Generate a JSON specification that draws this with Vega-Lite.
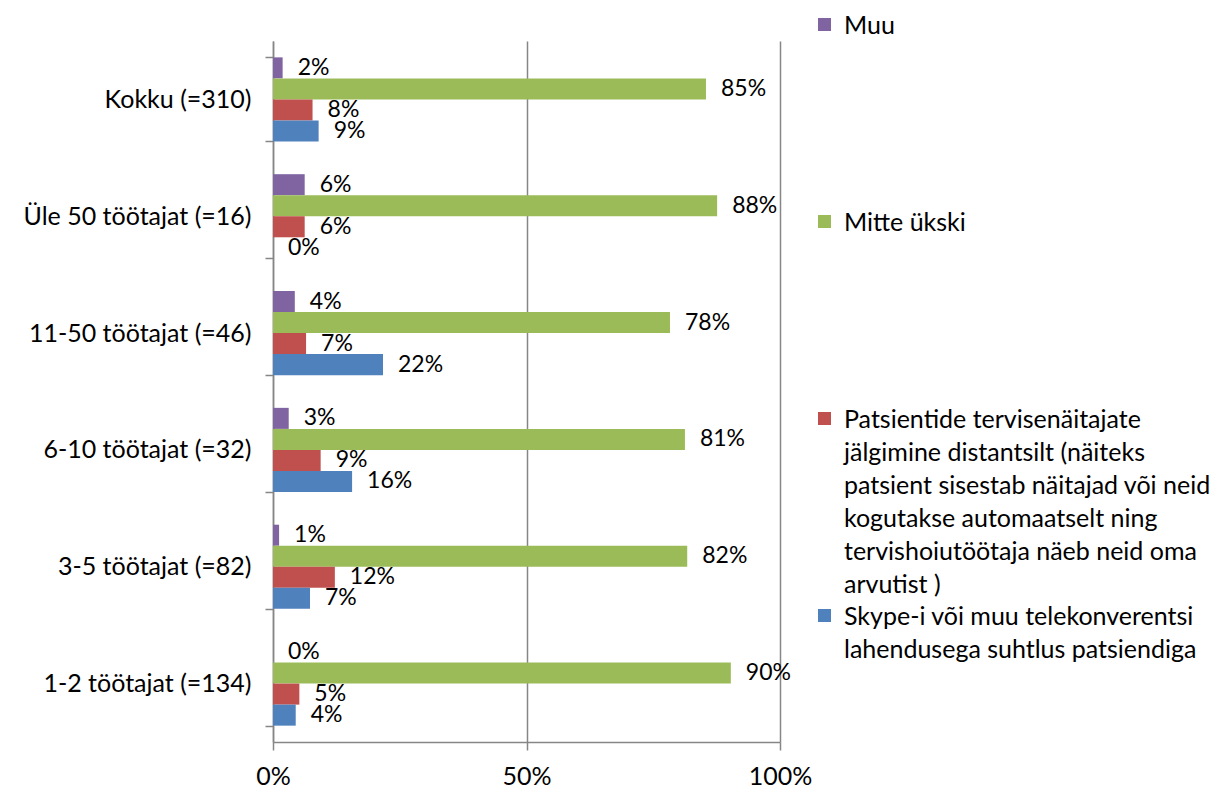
{
  "$schema": "https://vega.github.io/schema/vega-lite/v6.json",
  "width": 507,
  "height": 701,
  "autosize": "none",
  "padding": {"left": 273, "top": 41, "right": 451, "bottom": 70},
  "background": "white",
  "config": {"view": {"stroke": null}, "font": "Lato"},
  "data": {
    "values": [
      {"category": "Kokku (=310)", "series": "Muu", "value": 0.019},
      {"category": "Kokku (=310)", "series": "Mitte ükski", "value": 0.854},
      {"category": "Kokku (=310)", "series": "Patsientide tervisenäitajate jälgimine distantsilt", "value": 0.078},
      {"category": "Kokku (=310)", "series": "Skype-i või muu telekonverentsi lahendusega suhtlus patsiendiga", "value": 0.09},
      {"category": "Üle 50 töötajat (=16)", "series": "Muu", "value": 0.0625},
      {"category": "Üle 50 töötajat (=16)", "series": "Mitte ükski", "value": 0.876},
      {"category": "Üle 50 töötajat (=16)", "series": "Patsientide tervisenäitajate jälgimine distantsilt", "value": 0.0625},
      {"category": "Üle 50 töötajat (=16)", "series": "Skype-i või muu telekonverentsi lahendusega suhtlus patsiendiga", "value": 0},
      {"category": "11-50 töötajat (=46)", "series": "Muu", "value": 0.043},
      {"category": "11-50 töötajat (=46)", "series": "Mitte ükski", "value": 0.783},
      {"category": "11-50 töötajat (=46)", "series": "Patsientide tervisenäitajate jälgimine distantsilt", "value": 0.0652},
      {"category": "11-50 töötajat (=46)", "series": "Skype-i või muu telekonverentsi lahendusega suhtlus patsiendiga", "value": 0.217},
      {"category": "6-10 töötajat (=32)", "series": "Muu", "value": 0.031},
      {"category": "6-10 töötajat (=32)", "series": "Mitte ükski", "value": 0.8125},
      {"category": "6-10 töötajat (=32)", "series": "Patsientide tervisenäitajate jälgimine distantsilt", "value": 0.094},
      {"category": "6-10 töötajat (=32)", "series": "Skype-i või muu telekonverentsi lahendusega suhtlus patsiendiga", "value": 0.156},
      {"category": "3-5 töötajat (=82)", "series": "Muu", "value": 0.012},
      {"category": "3-5 töötajat (=82)", "series": "Mitte ükski", "value": 0.817},
      {"category": "3-5 töötajat (=82)", "series": "Patsientide tervisenäitajate jälgimine distantsilt", "value": 0.122},
      {"category": "3-5 töötajat (=82)", "series": "Skype-i või muu telekonverentsi lahendusega suhtlus patsiendiga", "value": 0.073},
      {"category": "1-2 töötajat (=134)", "series": "Muu", "value": 0},
      {"category": "1-2 töötajat (=134)", "series": "Mitte ükski", "value": 0.903},
      {"category": "1-2 töötajat (=134)", "series": "Patsientide tervisenäitajate jälgimine distantsilt", "value": 0.052},
      {"category": "1-2 töötajat (=134)", "series": "Skype-i või muu telekonverentsi lahendusega suhtlus patsiendiga", "value": 0.0448}
    ]
  },
  "encoding": {
    "y": {
      "field": "category",
      "type": "nominal",
      "sort": ["Kokku (=310)", "Üle 50 töötajat (=16)", "11-50 töötajat (=46)", "6-10 töötajat (=32)", "3-5 töötajat (=82)", "1-2 töötajat (=134)"],
      "scale": {"paddingInner": 0.28, "paddingOuter": 0.14},
      "axis": {
        "title": null,
        "tickBand": "extent",
        "tickSize": 8,
        "tickColor": "#868686",
        "tickWidth": 1.5,
        "domainColor": "#868686",
        "domainWidth": 1.5,
        "labelFont": "Lato",
        "labelFontSize": 25,
        "labelColor": "black",
        "labelPadding": 14,
        "labelLimit": 400
      }
    },
    "yOffset": {
      "field": "series",
      "type": "nominal",
      "sort": ["Muu", "Mitte ükski", "Patsientide tervisenäitajate jälgimine distantsilt", "Skype-i või muu telekonverentsi lahendusega suhtlus patsiendiga"],
      "scale": {"paddingInner": 0, "paddingOuter": 0}
    },
    "x": {
      "field": "value",
      "type": "quantitative",
      "scale": {"domain": [0, 1], "nice": false},
      "axis": {
        "title": null,
        "values": [0, 0.5, 1],
        "format": ".0%",
        "grid": true,
        "gridColor": "#868686",
        "gridWidth": 1.5,
        "tickSize": 8,
        "tickColor": "#868686",
        "tickWidth": 1.5,
        "domainColor": "#868686",
        "domainWidth": 1.5,
        "labelFont": "Lato",
        "labelFontSize": 25,
        "labelColor": "black",
        "labelPadding": 14,
        "labelFlush": false
      }
    }
  },
  "layer": [
    {
      "mark": {"type": "bar"},
      "encoding": {
        "color": {
          "field": "series",
          "type": "nominal",
          "scale": {
            "domain": ["Muu", "Mitte ükski", "Patsientide tervisenäitajate jälgimine distantsilt", "Skype-i või muu telekonverentsi lahendusega suhtlus patsiendiga"],
            "range": ["#8064A2", "#9BBB59", "#C0504D", "#4F81BD"]
          },
          "legend": {
            "orient": "none",
            "legendX": 539,
            "legendY": -29,
            "title": null,
            "padding": 0,
            "symbolType": "square",
            "symbolSize": 170,
            "symbolStrokeWidth": 0,
            "symbolOpacity": 1,
            "labelFont": "Lato",
            "labelFontSize": 25,
            "labelColor": "black",
            "labelLimit": 500,
            "labelOffset": 7,
            "labelBaseline": "top",
            "gridAlign": "all",
            "rowPadding": 5,
            "labelExpr": "datum.label == 'Patsientide tervisenäitajate jälgimine distantsilt' ? ['Patsientide tervisenäitajate', 'jälgimine distantsilt (näiteks', 'patsient sisestab näitajad või neid', 'kogutakse automaatselt ning', 'tervishoiutöötaja näeb neid oma', 'arvutist )'] : datum.label == 'Skype-i või muu telekonverentsi lahendusega suhtlus patsiendiga' ? ['Skype-i või muu telekonverentsi', 'lahendusega suhtlus patsiendiga'] : datum.label",
            "encode": {
              "labels": {"update": {"dy": {"value": -11}, "lineHeight": {"value": 33}}}
            }
          }
        }
      }
    },
    {
      "mark": {"type": "text", "align": "left", "baseline": "middle", "dx": 15, "font": "Lato", "fontSize": 23, "color": "black"},
      "encoding": {"text": {"field": "value", "type": "quantitative", "format": ".0%"}}
    }
  ]
}
